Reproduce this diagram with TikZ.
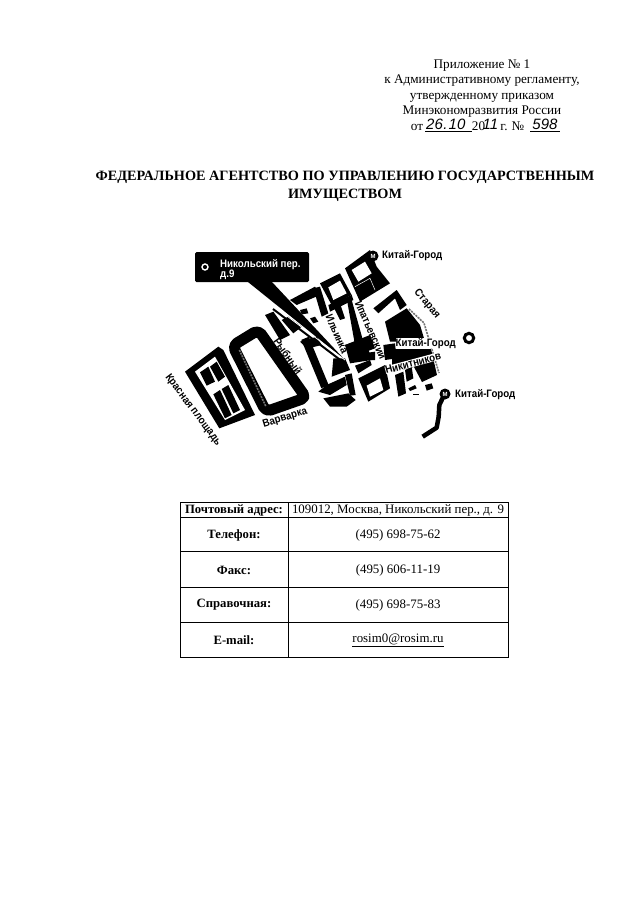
\documentclass[tikz,border=0pt]{standalone}
\usepackage{fontspec}
\setmainfont{Liberation Serif}
\newfontfamily\mapfont[FakeStretch=0.9]{Liberation Sans}
\newfontfamily\handfont{Liberation Sans}
\begin{document}
\begin{tikzpicture}[x=1pt,y=-1pt,
  body/.style={font=\fontsize{13.2}{15}\selectfont,inner sep=0pt,anchor=base},
  head/.style={font=\fontsize{14.25}{17}\selectfont\bfseries,inner sep=0pt,anchor=base},
  hand/.style={font=\fontsize{15}{15}\selectfont\handfont\itshape,inner sep=0pt,anchor=base},
  maptext/.style={font=\fontsize{10.8}{11}\selectfont\mapfont\bfseries,inner sep=0pt},
  celllabel/.style={font=\fontsize{12.7}{14}\selectfont\bfseries,inner sep=0pt},
  cellvalue/.style={font=\fontsize{12.9}{14}\selectfont,inner sep=0pt},
  grid/.style={line width=1pt,black},
  blk/.style={fill=black,draw=none},
  gap/.style={fill=white,draw=none},
  thinw/.style={draw=white,line width=.5pt},
  grayedge/.style={draw=black!55,line width=1.6pt,dash pattern=on 2pt off 1pt}]
\useasboundingbox (0,0) rectangle (640,905);
\fill[white] (0,0) rectangle (640,905);

% ---------- upper right block
\node[body] (l1) at (482,68) {Приложение № 1};
\node[body] (l2) at (482,83) {к Административному регламенту,};
\node[body] (l3) at (482,99) {утвержденному приказом};
\node[body] (l4) at (482,114) {Минэкономразвития России};
\node[body] (l5a) at (417,130) {от};
\node[hand] (l5b) at (434.5,129) {26};
\node[hand] (l5h) at (445.5,129) {.};
\node[hand] (l5i) at (457,129) {10};
\node[body] (l5c) at (478.5,130) {20};
\node[hand] (l5d) at (490.5,129) {11};
\node[body] (l5e) at (504,130) {г.};
\node[body] (l5f) at (518,130) {№};
\node[hand] (l5g) at (545,129) {598};
\draw[line width=.6pt] (425,131.5) -- (472,131.5) (530,131.5) -- (560,131.5);

% ---------- heading
\node[head] (h1) at (345,180) {ФЕДЕРАЛЬНОЕ АГЕНТСТВО ПО УПРАВЛЕНИЮ ГОСУДАРСТВЕННЫМ};
\node[head] (h2) at (345,198) {ИМУЩЕСТВОМ};

% ---------- map: Red Square block and GUM
\begin{scope}[shift={(160,235)},scale=.33333]
  \fill[blk] (75,410) -- (175,335) -- (190,345) -- (285,540) -- (178,580) -- cycle;
  \fill[gap] (105,410) -- (165,365) -- (255,525) -- (195,555) -- cycle;
  \fill[blk] (120,412) -- (145,395) -- (165,440) -- (140,452) -- cycle;
  \fill[blk] (150,395) -- (170,380) -- (195,425) -- (175,440) -- cycle;
  \fill[blk] (160,478) -- (180,465) -- (215,540) -- (195,550) -- cycle;
  \fill[blk] (185,462) -- (205,450) -- (240,525) -- (220,535) -- cycle;
  \draw[fill=white,line width=11pt,rounded corners=5pt,line join=round]
    (218,332) -- (295,285) -- (438,488) -- (318,530) -- cycle;
  \draw[grayedge] (238,345) -- (318,515);
\end{scope}

% ---------- map: central quarter
\begin{scope}[shift={(265,270)},scale=.33333]
  \fill[blk] (75,90) -- (150,50) -- (165,75) -- (95,105) -- cycle;
  \fill[blk] (145,55) -- (165,50) -- (190,130) -- (170,140) -- cycle;
  \fill[blk] (105,120) -- (125,115) -- (130,130) -- (110,133) -- cycle;
  \fill[blk] (135,145) -- (150,140) -- (160,155) -- (145,160) -- cycle;
  \fill[blk] (165,40) -- (225,10) -- (260,75) -- (200,105) -- cycle;
  \fill[gap] (190,52) -- (225,32) -- (245,70) -- (205,90) -- cycle;
  \fill[blk] (190,105) -- (260,75) -- (265,90) -- (195,125) -- cycle;
  \fill[blk] (205,110) -- (225,100) -- (240,145) -- (225,150) -- cycle;
  \fill[blk] (240,225) -- (300,205) -- (320,270) -- (255,280) -- cycle;
  \fill[blk] (0,135) -- (25,125) -- (75,195) -- (45,210) -- cycle;
  \fill[blk] (50,150) -- (70,140) -- (110,170) -- (85,190) -- cycle;
  \fill[blk] (105,215) -- (135,205) -- (150,215) -- (120,230) -- cycle;
\end{scope}

% ---------- map: lower central quarter
\begin{scope}[shift={(290,345)},scale=.33333]
  \fill[blk] (35,-10) -- (80,-25) -- (95,0) -- (55,10) -- cycle;
  \draw[line width=8pt] (45,-20) -- (105,125);
  \fill[blk] (85,140) -- (110,120) -- (165,95) -- (170,120) -- (120,150) -- cycle;
  \fill[blk] (100,160) -- (175,145) -- (197,165) -- (170,185) -- (120,185) -- cycle;
  \fill[blk] (115,118) -- (140,110) -- (150,130) -- (125,140) -- cycle;
  \fill[blk] (165,90) -- (185,85) -- (197,150) -- (180,152) -- cycle;
  \fill[blk] (130,40) -- (165,40) -- (180,75) -- (125,95) -- cycle;
  \fill[blk] (205,100) -- (285,60) -- (300,130) -- (235,170) -- cycle;
  \fill[gap] (230,122) -- (270,100) -- (280,135) -- (240,155) -- cycle;
  \fill[blk] (195,62) -- (240,45) -- (245,60) -- (205,85) -- cycle;
\end{scope}

% ---------- map: upper right quarter
\begin{scope}[shift={(345,245)},scale=.33333]
  \fill[blk] (0,70) -- (75,15) -- (95,65) -- (135,115) -- (45,170) -- cycle;
  \fill[gap] (20,75) -- (60,50) -- (80,85) -- (40,110) -- cycle;
  \draw[thinw] (30,125) -- (75,100) -- (90,135);
  \fill[blk] (85,190) -- (155,135) -- (185,180) -- (165,195) -- (150,160) -- (100,205) -- cycle;
  \fill[blk] (120,230) -- (185,190) -- (225,240) -- (240,290) -- (135,290) -- cycle;
\end{scope}

% ---------- map: middle, west of the right quarter
\begin{scope}[shift={(320,235)},scale=.33333]
  \fill[blk] (75,330) -- (150,300) -- (165,340) -- (100,365) -- cycle;
  \fill[blk] (80,190) -- (95,195) -- (130,320) -- (105,330) -- cycle;
  \fill[blk] (130,355) -- (165,350) -- (165,375) -- (135,375) -- cycle;
  % Metro tail
  \draw[line width=4.5pt,line join=round] (370,485) -- (358,510) -- (356,545) -- (350,578) -- (308,605);
\end{scope}

% ---------- map: right quarter
\begin{scope}[shift={(370,325)},scale=.33333]
  \fill[blk] (40,60) -- (75,55) -- (80,100) -- (45,105) -- cycle;
  \fill[blk] (75,150) -- (100,140) -- (108,205) -- (85,215) -- cycle;
  \fill[blk] (105,135) -- (125,125) -- (130,160) -- (110,170) -- cycle;
  \fill[blk] (115,190) -- (135,180) -- (140,190) -- (120,198) -- cycle;
  \fill[blk] (165,180) -- (185,175) -- (190,190) -- (170,197) -- cycle;
  \fill[blk] (130,208) -- (148,208) -- (148,211) -- (130,211) -- cycle;
\end{scope}
\fill[blk] (392,349) -- (431,349) -- (437,375) -- (422,382) -- (414,367) -- (392,372) -- cycle;
\draw[grayedge] (409,309) -- (424,323) -- (439,373);

% ---------- map: callout
\fill[blk] (248,282) -- (272,282) -- (345,360) -- cycle;
\fill[blk,rounded corners=1.5pt] (195,252) rectangle (309,282);
\draw[line width=2pt] (273,309) -- (343,362);
\draw[white,line width=.8pt] (275,307) -- (345,360);
\draw[white,line width=1.4pt] (205,267) circle (3pt);
\node[maptext,text=white,anchor=base west] (c1) at (220,267) {Никольский пер.};
\node[maptext,text=white,anchor=base west] (c2) at (220,277) {д.9};

% ---------- map: metro marks
\fill[black] (373,256) circle (5.5pt);
\node[font=\fontsize{6}{6}\selectfont\handfont\bfseries,text=white,inner sep=0pt] (m1) at (373,256) {М};
\draw[line width=3pt,fill=white] (469,338) circle (4.7pt);
\fill[black] (445,394) circle (5.5pt);
\node[font=\fontsize{6}{6}\selectfont\handfont\bfseries,text=white,inner sep=0pt] (m3) at (445,394) {М};

% ---------- map: labels
\node[maptext,anchor=base west] (t1) at (382,258) {Китай-Город};
\node[maptext,anchor=base west] (t2) at (455,397) {Китай-Город};
\node[maptext,anchor=base east,fill=white] (t3) at (456,346) {Китай-Город};
\node[maptext,rotate=-50] (t4) at (427,304) {Старая};
\node[maptext,rotate=-66] (t5) at (371,330) {Ипатьевский};
\node[maptext,rotate=-66] (t6) at (337,334) {Ильинка};
\node[maptext,rotate=-55] (t7) at (288,356) {Рыбный};
\node[maptext,rotate=15,fill=white] (t8) at (413,363) {Никитников};
\node[maptext,rotate=17] (t9) at (285,418) {Варварка};
\node[maptext,rotate=-53] (t10) at (193,410) {Красная площадь};

% ---------- table
\draw[grid] (180,502) rectangle (508,657.5);
\draw[grid] (288.5,502) -- (288.5,657.5);
\draw[grid] (180,517.5) -- (508,517.5);
\draw[grid] (180,551.5) -- (508,551.5);
\draw[grid] (180,587) -- (508,587);
\draw[grid] (180,622) -- (508,622);
\node[celllabel] (a1) at (234,510) {Почтовый адрес:};
\node[cellvalue] (b1) at (398,510) {109012, Москва, Никольский пер., д. 9};
\node[celllabel] (a2) at (234,535) {Телефон:};
\node[cellvalue] (b2) at (398,535) {(495) 698-75-62};
\node[celllabel] (a3) at (234,570) {Факс:};
\node[cellvalue] (b3) at (398,570) {(495) 606-11-19};
\node[celllabel] (a4) at (234,605) {Справочная:};
\node[cellvalue] (b4) at (398,605) {(495) 698-75-83};
\node[celllabel] (a5) at (234,640) {E-mail:};
\node[cellvalue] (b5) at (398,640) {\underline{rosim0@rosim.ru}};
\end{tikzpicture}
\end{document}
